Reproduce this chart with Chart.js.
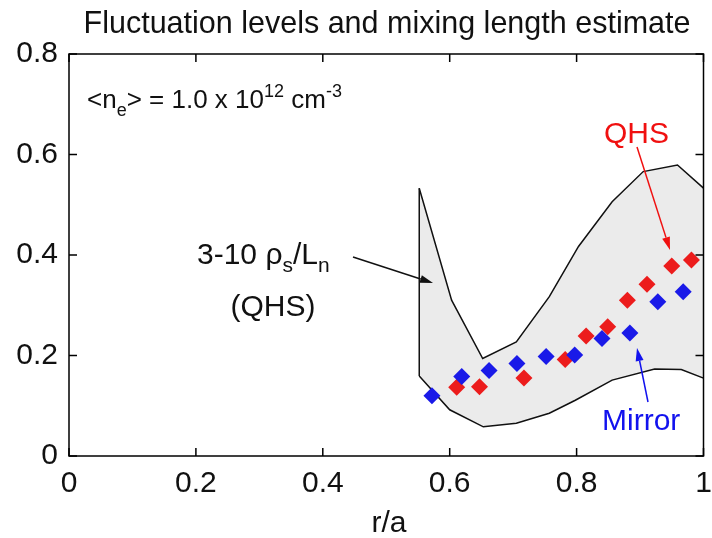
<!DOCTYPE html>
<html>
<head>
<meta charset="utf-8">
<script src="https://cdn.jsdelivr.net/npm/chart.js@4/dist/chart.umd.min.js"></script>
<style>
html,body{margin:0;padding:0;background:#fff;}
#wrap{width:712px;height:538px;position:relative;}
</style>
</head>
<body>
<div id="wrap"><canvas id="c" width="712" height="538"></canvas></div>
<script>
// ---- data ----
const xTicks = [0, 0.2, 0.4, 0.6, 0.8, 1];
const xTickLabels = ['0', '0.2', '0.4', '0.6', '0.8', '1'];
const yTicks = [0, 0.2, 0.4, 0.6, 0.8];
const yTickLabels = ['0', '0.2', '0.4', '0.6', '0.8'];

const qhsX = [0.611, 0.647, 0.717, 0.782, 0.815, 0.849, 0.880, 0.911, 0.950, 0.981];
const qhsY = [0.137, 0.138, 0.155, 0.192, 0.239, 0.257, 0.310, 0.342, 0.378, 0.390];

const mirrorX = [0.572, 0.619, 0.662, 0.706, 0.752, 0.797, 0.840, 0.884, 0.928, 0.968];
const mirrorY = [0.120, 0.158, 0.170, 0.184, 0.198, 0.201, 0.234, 0.245, 0.307, 0.327];

const bandUpperX = [0.552, 0.603, 0.652, 0.705, 0.757, 0.803, 0.856, 0.905, 0.959, 1.0];
const bandUpperY = [0.533, 0.310, 0.194, 0.227, 0.317, 0.417, 0.506, 0.566, 0.579, 0.533];
const bandLowerX = [0.552, 0.600, 0.653, 0.705, 0.757, 0.798, 0.856, 0.923, 0.965, 1.0];
const bandLowerY = [0.159, 0.092, 0.058, 0.065, 0.085, 0.111, 0.151, 0.173, 0.172, 0.155];

const toPts = (xs, ys) => xs.map((x, i) => ({x: x, y: ys[i]}));

const FONT = '"Liberation Sans", Arial, Helvetica, sans-serif';

function arrow(ctx, x1, y1, x2, y2, color, headLen, headW) {
  ctx.save();
  ctx.strokeStyle = color; ctx.fillStyle = color; ctx.lineWidth = 1.5;
  const a = Math.atan2(y2 - y1, x2 - x1);
  const bx = x2 - headLen * Math.cos(a), by = y2 - headLen * Math.sin(a);
  ctx.beginPath(); ctx.moveTo(x1, y1); ctx.lineTo(bx, by); ctx.stroke();
  ctx.beginPath();
  ctx.moveTo(x2, y2);
  ctx.lineTo(bx + headW * Math.sin(a), by - headW * Math.cos(a));
  ctx.lineTo(bx - headW * Math.sin(a), by + headW * Math.cos(a));
  ctx.closePath(); ctx.fill();
  ctx.restore();
}

function rich(ctx, x, y, parts, color) {
  ctx.save();
  ctx.fillStyle = color; ctx.textAlign = 'left'; ctx.textBaseline = 'alphabetic';
  let cx = x;
  for (const p of parts) {
    ctx.font = p.size + 'px ' + FONT;
    ctx.fillText(p.t, cx, y + (p.dy || 0));
    cx += ctx.measureText(p.t).width;
  }
  ctx.restore();
}

const decor = {
  id: 'decor',
  afterDraw(chart) {
    const ctx = chart.ctx;
    const a = chart.chartArea;
    const xs = chart.scales.x, ys = chart.scales.y;
    ctx.save();
    // box
    ctx.strokeStyle = '#000'; ctx.lineWidth = 1.5;
    ctx.strokeRect(a.left, a.top, a.right - a.left, a.bottom - a.top);
    // inward ticks
    const tl = 8;
    ctx.beginPath();
    xTicks.forEach(v => {
      const px = xs.getPixelForValue(v);
      ctx.moveTo(px, a.bottom); ctx.lineTo(px, a.bottom - tl);
      ctx.moveTo(px, a.top); ctx.lineTo(px, a.top + tl);
    });
    yTicks.forEach(v => {
      const py = ys.getPixelForValue(v);
      ctx.moveTo(a.left, py); ctx.lineTo(a.left + tl, py);
      ctx.moveTo(a.right, py); ctx.lineTo(a.right - tl, py);
    });
    ctx.stroke();
    // title
    ctx.fillStyle = '#111';
    ctx.font = '30.5px ' + FONT; ctx.textAlign = 'center'; ctx.textBaseline = 'alphabetic';
    ctx.fillText('Fluctuation levels and mixing length estimate', 387, 33);
    // x axis title
    ctx.font = '30px ' + FONT;
    ctx.fillText('r/a', 389, 532);
    ctx.restore();

    // density annotation
    rich(ctx, 87, 108, [
      {t: '<n', size: 26},
      {t: 'e', size: 18, dy: 8},
      {t: '> = 1.0 x 10', size: 26},
      {t: '12', size: 18, dy: -11},
      {t: ' cm', size: 26},
      {t: '-3', size: 18, dy: -11}
    ], '#111');

    // rho_s / L_n label
    rich(ctx, 197, 264, [
      {t: '3-10 \u03c1', size: 30},
      {t: 's', size: 21, dy: 8},
      {t: '/L', size: 30},
      {t: 'n', size: 21, dy: 8}
    ], '#111');
    ctx.save();
    ctx.fillStyle = '#111'; ctx.font = '30px ' + FONT; ctx.textAlign = 'center';
    ctx.fillText('(QHS)', 273, 316);
    ctx.fillStyle = '#f01010'; ctx.textAlign = 'left';
    ctx.fillText('QHS', 604, 143);
    ctx.fillStyle = '#1212ee';
    ctx.fillText('Mirror', 602, 430);
    ctx.restore();

    arrow(ctx, 353, 257, 433, 283, '#111', 13, 4);
    arrow(ctx, 637, 147, 670, 250, '#f01010', 13, 4);
    arrow(ctx, 648, 402, 637, 348, '#1212ee', 13, 4);
  }
};

new Chart(document.getElementById('c'), {
  type: 'scatter',
  data: {
    datasets: [
      {
        label: 'Mirror',
        data: toPts(mirrorX, mirrorY),
        pointStyle: 'rectRot', pointRadius: 8.5, pointHoverRadius: 8.5,
        backgroundColor: '#1a1ae8', borderWidth: 0, showLine: false
      },
      {
        label: 'QHS',
        data: toPts(qhsX, qhsY),
        pointStyle: 'rectRot', pointRadius: 8.5, pointHoverRadius: 8.5,
        backgroundColor: '#ec1c1c', borderWidth: 0, showLine: false
      },
      {
        label: 'upper',
        data: toPts(bandUpperX, bandUpperY),
        showLine: true, pointRadius: 0, borderColor: '#111', borderWidth: 1.5,
        backgroundColor: '#ebebeb', fill: '+1', tension: 0
      },
      {
        label: 'lower',
        data: toPts(bandLowerX, bandLowerY),
        showLine: true, pointRadius: 0, borderColor: '#111', borderWidth: 1.5,
        fill: false, tension: 0
      },
      {
        label: 'edge',
        data: [{x: bandLowerX[0], y: bandLowerY[0]}, {x: bandUpperX[0], y: bandUpperY[0]}],
        showLine: true, pointRadius: 0, borderColor: '#111', borderWidth: 1.5, fill: false
      }
    ]
  },
  options: {
    responsive: false,
    animation: false,
    events: [],
    layout: {padding: {left: 0, right: 3, top: 54, bottom: 0}},
    plugins: {
      legend: {display: false},
      tooltip: {enabled: false},
      title: {display: false},
      filler: {drawTime: 'beforeDatasetsDraw'}
    },
    scales: {
      x: {
        type: 'linear', min: 0, max: 1,
        afterFit(s) { s.height = 82; s.paddingLeft = 0; s.paddingRight = 0; },
        afterBuildTicks(s) { s.ticks = xTicks.map(v => ({value: v})); },
        grid: {display: false, drawTicks: false},
        border: {display: false},
        ticks: {
          padding: 10, color: '#111', maxRotation: 0, autoSkip: false,
          font: {family: FONT, size: 30},
          callback: (v) => { const i = xTicks.indexOf(v); return i >= 0 ? xTickLabels[i] : ''; }
        }
      },
      y: {
        type: 'linear', min: 0, max: 0.8,
        afterFit(s) { s.width = 69; s.paddingTop = 0; s.paddingBottom = 0; },
        afterBuildTicks(s) { s.ticks = yTicks.map(v => ({value: v})); },
        grid: {display: false, drawTicks: false},
        border: {display: false},
        ticks: {
          padding: 11, color: '#111', autoSkip: false,
          font: {family: FONT, size: 30},
          callback: (v) => { const i = yTicks.indexOf(v); return i >= 0 ? yTickLabels[i] : ''; }
        }
      }
    }
  },
  plugins: [decor]
});
</script>
</body>
</html>
